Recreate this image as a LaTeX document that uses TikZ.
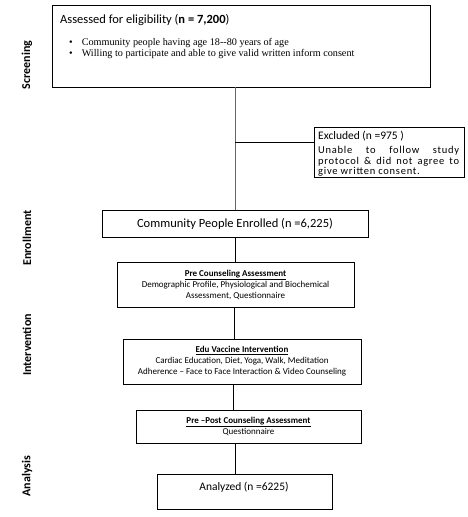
\documentclass[tikz,border=0pt]{standalone}
\usepackage{fontspec}
\setmainfont{Carlito}
\newfontfamily\tnr{Liberation Serif}
\newfontfamily\widefont[LetterSpace=7]{Carlito}
\begin{document}
\begin{tikzpicture}[x=1pt,y=-1pt,
  box/.style={draw, line width=0.8pt, inner sep=0pt},
  link/.style={line width=0.8pt},
  side/.style={rotate=90, font=\fontsize{12}{14}\selectfont\bfseries},
  small/.style={font=\fontsize{9}{11}\selectfont, align=center}]
\useasboundingbox (0,0) rectangle (468,517);
% boxes
\node[box, minimum width=378pt, minimum height=82pt] (screen) at (241,46) {};
\node[box, minimum width=150pt, minimum height=50pt] (excl) at (389,152) {};
\node[box, minimum width=266pt, minimum height=27pt, font=\fontsize{12.5}{14}\selectfont] (enroll) at (235,223.5) {Community People Enrolled (n =6,225)};
\node[box, minimum width=237pt, minimum height=45pt, small] (pre) at (235.5,284.5) {\underline{\textbf{Pre Counseling Assessment}}\\Demographic Profile, Physiological and Biochemical\\Assessment, Questionnaire};
\node[box, minimum width=238pt, minimum height=45pt, small] (edu) at (242,361.5) {\underline{\textbf{Edu Vaccine Intervention}}\\Cardiac Education, Diet, Yoga, Walk, Meditation\\Adherence -- Face to Face Interaction \& Video Counseling};
\node[box, minimum width=225pt, minimum height=33pt, small] (post) at (248.5,426.5) {\underline{\textbf{Pre --Post Counseling Assessment}}\\Questionnaire};
\node[box, minimum width=175pt, minimum height=35pt] (anal) at (244.5,491.5) {};
% texts
\node[anchor=base west, inner sep=0pt, font=\fontsize{12.5}{15}\selectfont] (t1) at (60,23.5) {Assessed for eligibility (\textbf{n = 7,200})};
\node[anchor=base west, inner sep=0pt, font=\tnr\fontsize{10.2}{11}\selectfont] (b1) at (69,45) {\textbullet\hspace{9pt}Community people having age 18--80 years of age};
\node[anchor=base west, inner sep=0pt, font=\tnr\fontsize{10.2}{11}\selectfont] (b2) at (69,56) {\textbullet\hspace{9pt}Willing to participate and able to give valid written inform consent};
\node[anchor=base west, inner sep=0pt, font=\fontsize{11.5}{13}\selectfont] (et) at (318,139.5) {Excluded (n =975 )};
\node[anchor=north west, inner sep=0pt, align=left, font=\widefont\fontsize{10.5}{10.5}\selectfont] (eb) at (318,146.5) {\makebox[141pt][s]{Unable to follow study}\\\makebox[141pt][s]{protocol \& did not agree to}\\give written consent.};
\node[font=\fontsize{11.5}{13}\selectfont] (at) at (244,487) {Analyzed (n =6225)};
% side labels
\node[side] (s1) at (27,65) {Screening};
\node[side] (s2) at (27,238) {Enrollment};
\node[side] (s3) at (27,345) {Intervention};
\node[side] (s4) at (27,476) {Analysis};
% connectors
\draw[link, draw=black!60] (enroll.north |- screen.south) -- (enroll.north);
\coordinate (j) at (235,142);
\draw[link] (j) -- (excl.west |- j);
\draw[link] (enroll.south) -- (enroll.south |- pre.north);
\draw[link] ([xshift=-1.5pt]pre.south) -- ([xshift=-1.5pt]pre.south |- edu.north);
\draw[link] ([xshift=-9pt]edu.south) -- ([xshift=-9pt]edu.south |- post.north);
\draw[link] ([xshift=-13.5pt]post.south) -- ([xshift=-13.5pt]post.south |- anal.north);
\end{tikzpicture}
\end{document}
